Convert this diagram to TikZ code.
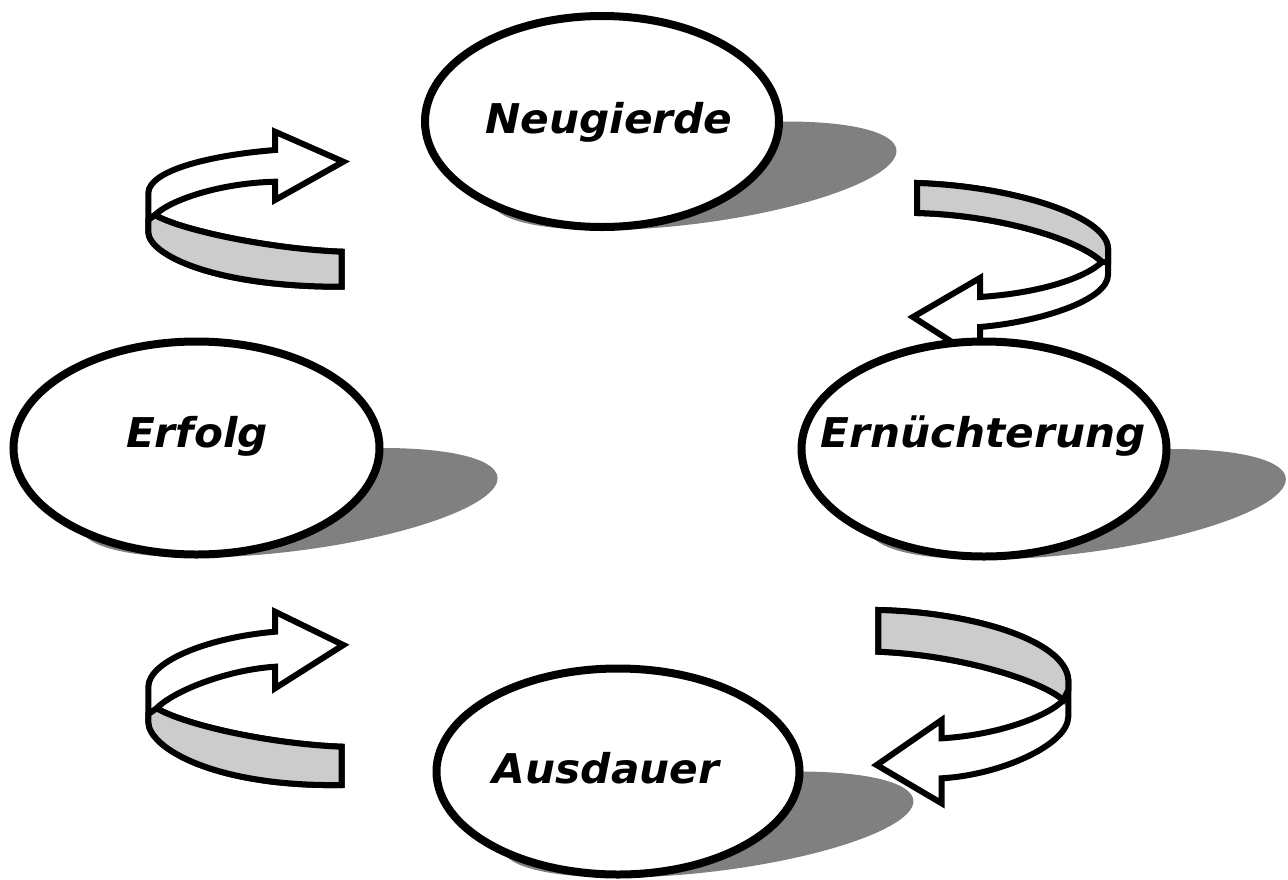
\documentclass[tikz,border=0pt]{standalone}
\usepackage{fontspec}
\usetikzlibrary{shapes.geometric}
\newfontfamily\lblfont{DejaVu Sans}[UprightFont={* Bold Oblique}, FakeStretch=1.03]
\definecolor{castgray}{HTML}{808080}
\definecolor{bandgray}{HTML}{CCCCCC}

\tikzset{
  bubble/.style={ellipse, draw=black, line width=8pt, fill=white, inner sep=0pt},
  word/.style={font=\lblfont\fontsize{41}{41}\selectfont, anchor=base, inner sep=0pt},
  ribbon/.style={draw=black, line width=6pt, fill=white, line join=miter},
  band/.style={draw=black, line width=6pt, fill=bandgray, line join=miter},
}

% perspective shadow of an ellipse: centre (#1,#2), radii #3, #4
\newcommand\castshadow[4]{%
  \fill[castgray] plot[domain=0:360, samples=120, smooth, variable=\t]
    ({#1 + #3*cos(\t) + 0.85*#4*(1-sin(\t))}, {#2 + #4 - 0.5*#4*(1-sin(\t))}) -- cycle;
}

\begin{document}
\begin{tikzpicture}[x=1pt, y=-1pt]
\useasboundingbox (0,0) rectangle (1288,879);

% shadows
\castshadow{602}{121.5}{180}{108.5}
\castshadow{196.5}{448}{186}{109.5}
\castshadow{984}{449}{185.5}{110.5}
\castshadow{618}{771.5}{184.5}{106}

% top-left ribbon arrow
\path[ribbon] (275,150) .. controls (212,155) and (149,170) .. (148.3,193)
  -- (148.3,231.7) .. controls (148.3,255) and (215,287) .. (341.7,286.7)
  -- (341.7,251.7) .. controls (270,249) and (180,230) .. (155,215)
  .. controls (170,200) and (220,183) .. (275,181.7)
  -- (275,200) -- (343.3,161.7) -- (275,131.7) -- cycle;
\path[band] (341.7,251.7) .. controls (270,249) and (180,230) .. (155,215)
  -- (148.3,220) -- (148.3,231.7) .. controls (148.3,255) and (215,287) .. (341.7,286.7)
  -- cycle;

% bottom-left ribbon arrow
\path[ribbon] (275,631.7) .. controls (212,637) and (149,660) .. (148.3,686.7)
  -- (148.3,721.7) .. controls (148.3,748) and (215,787) .. (341.7,785)
  -- (341.7,746.7) .. controls (270,744) and (185,725) .. (156.7,708.3)
  .. controls (172,692) and (225,670) .. (275,666.7)
  -- (275,688.3) -- (343.3,645) -- (275,611.7) -- cycle;
\path[band] (341.7,746.7) .. controls (270,744) and (185,725) .. (156.7,708.3)
  -- (148.3,714) -- (148.3,721.7) .. controls (148.3,748) and (215,787) .. (341.7,785)
  -- cycle;

% top-right ribbon arrow
\path[ribbon] (917,183) .. controls (1010,186) and (1106,215) .. (1108,248)
  -- (1108,275) .. controls (1108,300) and (1040,322) .. (980,327)
  -- (980,360) -- (913,317) -- (980,278) -- (980,297)
  .. controls (1040,293) and (1085,278) .. (1102,262)
  .. controls (1080,240) and (1000,215) .. (917,213) -- cycle;
\path[band] (917,183) .. controls (1010,186) and (1106,215) .. (1108,248)
  -- (1108,262) -- (1102,262)
  .. controls (1080,240) and (1000,215) .. (917,213) -- cycle;

% bottom-right ribbon arrow
\path[ribbon] (878.3,610) .. controls (970,612) and (1066,640) .. (1068.3,680)
  -- (1068.3,716.7) .. controls (1068,745) and (1000,775) .. (941.7,778.3)
  -- (941.7,803.3) -- (876.7,765) -- (941.7,720) -- (941.7,738.3)
  .. controls (1000,735) and (1050,715) .. (1063.3,700)
  .. controls (1040,680) and (960,655) .. (878.3,651.7) -- cycle;
\path[band] (878.3,610) .. controls (970,612) and (1066,640) .. (1068.3,680)
  -- (1068.3,690) -- (1063.3,700)
  .. controls (1040,680) and (960,655) .. (878.3,651.7) -- cycle;

% stages
\node[bubble, minimum width=354, minimum height=211] (neu) at (602,121.5) {};
\node[bubble, minimum width=366, minimum height=213] (erf) at (196.5,448) {};
\node[bubble, minimum width=365, minimum height=215] (ern) at (984,449) {};
\node[bubble, minimum width=363, minimum height=206] (aus) at (618,771.5) {};

\node[word] (neuT) at (609,133) {Neugierde};
\node[word] (erfT) at (197,447) {Erfolg};
\node[word] (ernT) at (983,447) {Ernüchterung};
\node[word] (ausT) at (606,783) {Ausdauer};
\end{tikzpicture}
\end{document}
